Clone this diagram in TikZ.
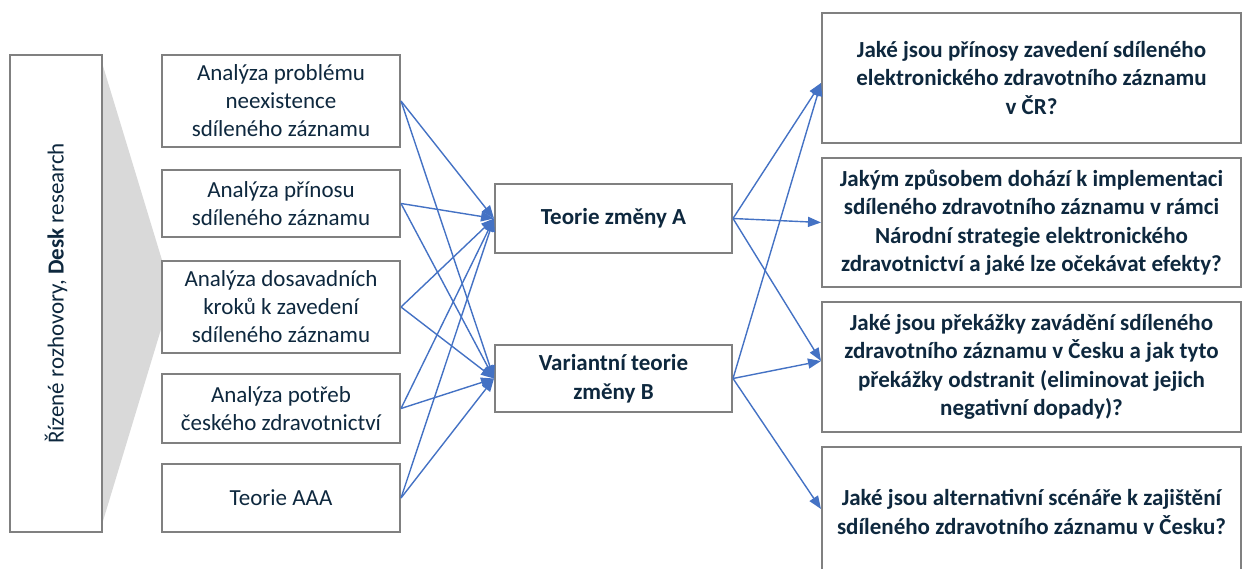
\documentclass[tikz,border=0pt]{standalone}
\usepackage{fontspec}
\setmainfont{Carlito}
\usetikzlibrary{arrows.meta}
\definecolor{ink}{RGB}{14,40,62}
\definecolor{frame}{RGB}{128,128,128}
\definecolor{arrowblue}{RGB}{68,114,196}
\definecolor{funnelgray}{RGB}{217,217,217}
\begin{document}
\begin{tikzpicture}[x=1pt,y=-1pt,
  box/.style={draw=frame, line width=2pt, fill=white, inner sep=0pt,
    align=center, text=ink, font=\fontsize{23}{28}\selectfont},
  leftbox/.style={box, minimum width=238pt},
  midbox/.style={box, minimum width=237pt, font=\fontsize{23}{28.5}\selectfont\bfseries},
  qbox/.style={box, minimum width=419pt, minimum height=130pt,
    font=\fontsize{23}{28.5}\selectfont\bfseries},
  conn/.style={draw=arrowblue, line width=1.4pt,
    -{Triangle[length=13pt,width=10pt]}}
]
\useasboundingbox (0,0) rectangle (1242,569);
\clip (0,0) rectangle (1242,569);

% funnel behind the method boxes
\fill[funnelgray] (103,66) -- (172,293) -- (103,521) -- cycle;

% methods column
\node[box, rotate=90, minimum width=477pt, minimum height=92pt] (L) at (56,293.5)
  {Řízené rozhovory, \textbf{Desk} research};

% analyses
\node[leftbox, minimum height=92pt] (b1) at (281,101)
  {Analýza problému\\neexistence\\sdíleného záznamu};
\node[leftbox, minimum height=67pt] (b2) at (281,203.5)
  {Analýza přínosu\\sdíleného záznamu};
\node[leftbox, minimum height=92pt] (b3) at (281,307)
  {Analýza dosavadních\\kroků k zavedení\\sdíleného záznamu};
\node[leftbox, minimum height=69pt] (b4) at (281,408.5)
  {Analýza potřeb\\českého zdravotnictví};
\node[leftbox, minimum height=68pt] (b5) at (281,498)
  {Teorie AAA};

% theories of change
\node[midbox, minimum height=69pt] (A) at (613.5,218.5) {Teorie změny A};
\node[midbox, minimum height=67pt] (B) at (613.5,378.5) {Variantní teorie\\změny B};

% research questions
\node[qbox] (q1) at (1031.5,78)
  {Jaké jsou přínosy zavedení sdíleného\\elektronického zdravotního záznamu\\v ČR?};
\node[qbox, minimum height=129pt] (q2) at (1031.5,222.5)
  {Jakým způsobem dohází k implementaci\\sdíleného zdravotního záznamu v rámci\\Národní strategie elektronického\\zdravotnictví a jaké lze očekávat efekty?};
\node[qbox] (q3) at (1031.5,367)
  {Jaké jsou překážky zavádění sdíleného\\zdravotního záznamu v Česku a jak tyto\\překážky odstranit (eliminovat jejich\\negativní dopady)?};
\node[qbox] (q4) at (1031.5,512)
  {Jaké jsou alternativní scénáře k zajištění\\sdíleného zdravotního záznamu v Česku?};

% analyses feed both theories
\foreach \s in {b1,b2,b3,b4,b5} {
  \draw[conn] (\s.east) -- (A.west);
  \draw[conn] (\s.east) -- (B.west);
}

% theories answer the questions
\draw[conn] (A.east) -- ([yshift=-5pt]q1.west);
\draw[conn] (A.east) -- (q2.west);
\draw[conn] (A.east) -- ([yshift=6pt]q3.west);
\draw[conn] (B.east) -- ([yshift=-5pt]q1.west);
\draw[conn] (B.east) -- ([yshift=6pt]q3.west);
\draw[conn] (B.east) -- ([yshift=3pt]q4.west);
\end{tikzpicture}
\end{document}
